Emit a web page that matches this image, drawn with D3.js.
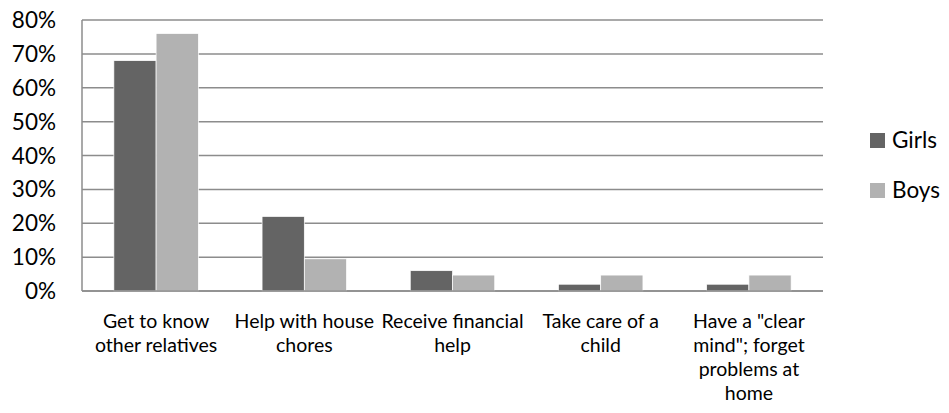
<!DOCTYPE html>
<html><head><meta charset="utf-8">
<script src="https://cdn.jsdelivr.net/npm/d3@7"></script>
<style>body{margin:0;background:#fff}svg{display:block}text{font-family:Lato,"Open Sans",sans-serif;fill:#000}</style>
</head><body><svg id="c" width="949" height="413"></svg>
<script>
const categories = [
  ["Get to know","other relatives"],
  ["Help with house","chores"],
  ["Receive financial","help"],
  ["Take care of a","child"],
  ["Have a \"clear","mind\"; forget","problems at","home"]
];
const seriesNames = ["Girls","Boys"];
const girls = [0.68, 0.22, 0.06, 0.02, 0.02];
const boys  = [0.76, 0.095, 0.047, 0.047, 0.047];
const yTicks = [0,0.1,0.2,0.3,0.4,0.5,0.6,0.7,0.8];
const colors = ["#646464","#b2b2b2"];

const svg = d3.select("#c");
const L=82, R=823, T=20, B=291;
const x = d3.scaleBand().domain(d3.range(categories.length)).range([L,R]).paddingInner(0.43).paddingOuter(0.215);
const xs = d3.scaleBand().domain([0,1]).range([0,x.bandwidth()]);
const y = d3.scaleLinear().domain([0,0.8]).range([B,T]);

svg.append("g").selectAll("line").data(yTicks).join("line")
  .attr("x1",L).attr("x2",R).attr("y1",d=>y(d)).attr("y2",d=>y(d))
  .attr("stroke","#8c8c8c").attr("stroke-width",1.5);

const data = [girls, boys];
data.forEach((vals,si)=>{
  svg.append("g").selectAll("rect").data(vals).join("rect")
    .attr("x",(d,i)=>x(i)+xs(si)).attr("width",xs.bandwidth())
    .attr("y",d=>y(d)).attr("height",d=>B-y(d))
    .attr("fill",colors[si]).attr("stroke","#fff").attr("stroke-width",0.7);
});

svg.append("line").attr("x1",L).attr("x2",L).attr("y1",T).attr("y2",B).attr("stroke","#8c8c8c").attr("stroke-width",1.5);
svg.append("line").attr("x1",L).attr("x2",R).attr("y1",B).attr("y2",B).attr("stroke","#8c8c8c").attr("stroke-width",1.5);

svg.append("g").selectAll("text").data(yTicks).join("text")
  .attr("x",56).attr("y",d=>y(d)+8).attr("text-anchor","end")
  .style("font-size","22.5px").text(d=>d3.format(".0%")(d));

const xl = svg.append("g").selectAll("text").data(categories).join("text")
  .attr("text-anchor","middle").style("font-size","19.5px")
  .attr("transform",(d,i)=>`translate(${x(i)+x.bandwidth()/2},328)`);
xl.selectAll("tspan").data(d=>d).join("tspan").attr("x",0).attr("dy",(d,j)=>j?24:0).text(d=>d);

const lg = svg.append("g").selectAll("g").data(seriesNames).join("g")
  .attr("transform",(d,i)=>`translate(870,${133+i*50})`);
lg.append("rect").attr("width",15).attr("height",15).attr("fill",(d,i)=>colors[i]);
lg.append("text").attr("x",22).attr("y",15).style("font-size","22.5px").text(d=>d);
</script></body></html>
